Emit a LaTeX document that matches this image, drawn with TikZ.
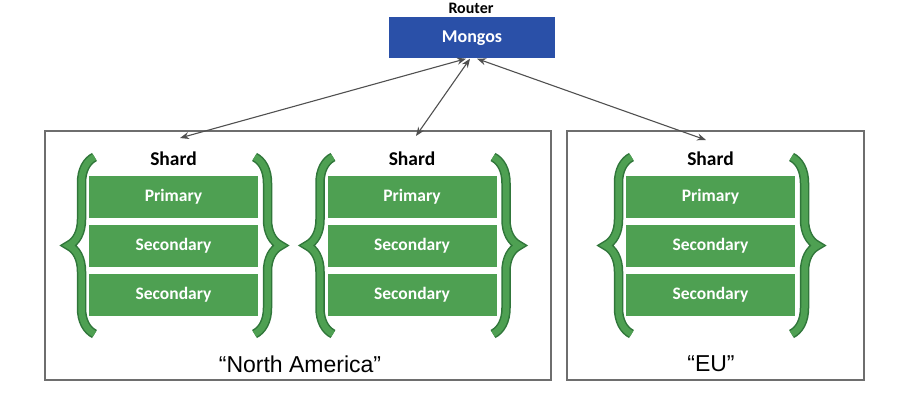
\documentclass[tikz,border=0pt]{standalone}
\usepackage{fontspec}
\setmainfont{Carlito}
\newfontfamily\regionfont{Liberation Sans}
\usetikzlibrary{arrows.meta,decorations.pathreplacing,positioning}

\definecolor{mongoblue}{RGB}{42,80,168}
\definecolor{shardgreen}{RGB}{78,160,82}
\definecolor{bracedark}{RGB}{48,118,58}
\definecolor{framegray}{RGB}{110,110,110}
\definecolor{linkgray}{RGB}{80,80,80}

\tikzset{
  member/.style={fill=shardgreen, text=white, inner sep=0pt,
    minimum width=169pt, minimum height=42pt,
    font=\bfseries\fontsize{17.5}{20}\selectfont},
  region/.style={draw=framegray, line width=1.1pt},
  link/.style={draw=linkgray, line width=1.1pt,
    {Stealth[length=9pt,width=7pt]}-{Stealth[length=9pt,width=7pt]}},
}

\begin{document}
\begin{tikzpicture}[x=1pt, y=-1pt]
  \useasboundingbox (0,0) rectangle (900,412);
  % Router
  \node[anchor=base, inner sep=0pt, font=\bfseries\fontsize{16}{18}\selectfont] (router) at (471,14) {Router};
  \node[fill=mongoblue, text=white, minimum width=166pt, minimum height=41pt,
        inner sep=0pt, font=\bfseries\fontsize{18}{20}\selectfont] (mongos) at (472,38) {Mongos};
  % Regionen
  \draw[region] (45,131) rectangle (551,380);
  \draw[region] (567,131) rectangle (864,380);
  \node[font=\regionfont\fontsize{23}{26}\selectfont] (na) at (300,364) {“North America”};
  \node[font=\regionfont\fontsize{23}{26}\selectfont] (eu) at (711,364) {“EU”};
  % Shards
  \foreach \cx/\nm in {173.5/a, 412/b, 710.5/c} {
    \node[font=\bfseries\fontsize{19.5}{22}\selectfont] (shard\nm) at (\cx,159) {Shard};
    \node[member] (prim\nm) at (\cx,197) {Primary};
    \node[member] (secA\nm) at (\cx,245.5) {Secondary};
    \node[member] (secB\nm) at (\cx,294.5) {Secondary};
    \foreach \c/\w in {bracedark/9.5pt, shardgreen/6.5pt} {
      \draw[\c, line width=\w, decorate, decoration={brace, amplitude=26pt}]
        (\cx-79,334) -- (\cx-79,157);
      \draw[\c, line width=\w, decorate, decoration={brace, amplitude=26pt}]
        (\cx+81,157) -- (\cx+81,334);
    }
  }
  % Verbindungen
  \coordinate (endA) at (180,138);
  \coordinate (endB) at (416,136);
  \coordinate (endC) at (706,140);
  \draw[link] ([xshift=-6pt]mongos.south) -- (endA);
  \draw[link] ([xshift=-2pt]mongos.south) -- (endB);
  \draw[link] ([xshift=5pt]mongos.south) -- (endC);
\end{tikzpicture}
\end{document}
